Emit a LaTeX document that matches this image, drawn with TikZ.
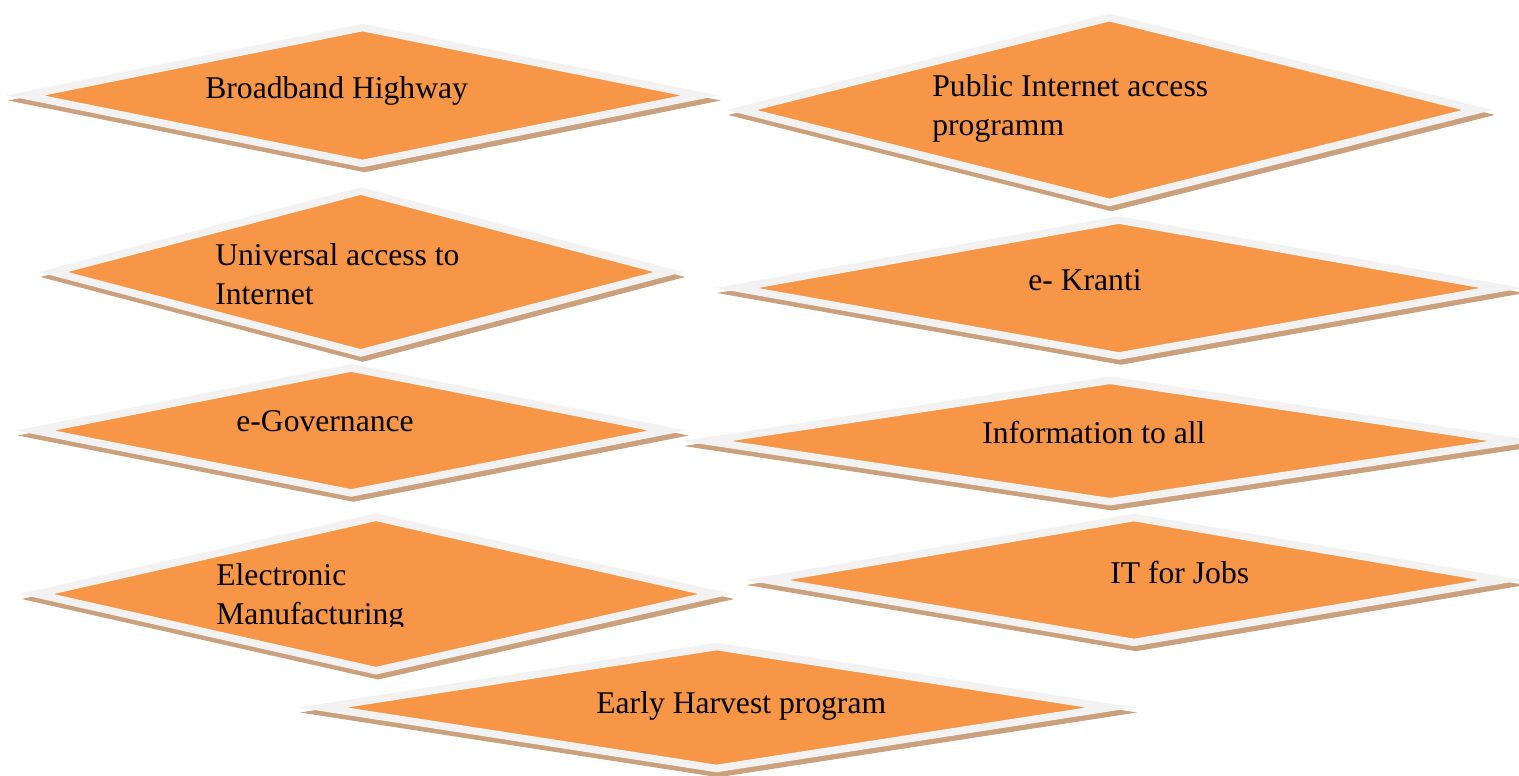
\documentclass[tikz,border=0pt]{standalone}
\usepackage{fontspec}
\setmainfont{Liberation Serif}
\usetikzlibrary{shapes.geometric,shadows}

\definecolor{boxorange}{RGB}{247,150,70}
\definecolor{boxrim}{RGB}{242,242,242}
\definecolor{boxshadow}{RGB}{203,160,124}

\begin{document}
\begin{tikzpicture}[x=0.02cm, y=-0.02cm,
    box/.style 2 args={diamond, minimum width=#1, minimum height=#2, inner sep=0pt,
        fill=boxorange, draw=boxrim, line width=0.15cm, line join=miter,
        drop shadow={shadow xshift=0.04cm, shadow yshift=-0.1cm, opacity=1,
            fill=boxshadow, draw=boxshadow, line width=0.15cm}},
    lbl/.style={font=\fontsize{18}{22}\selectfont, align=left, inner sep=0pt, anchor=base west}]
\useasboundingbox (0,0) rectangle (1519,775);

% diamonds, row by row
\node[box={13.56cm}{2.78cm}] (broadband) at (362.5,95.5) {};
\node[box={14.78cm}{3.76cm}] (publicnet) at (1109.5,110) {};
\node[box={12.37cm}{3.30cm}] (universal) at (360.75,272) {};
\node[box={15.36cm}{2.78cm}] (ekranti) at (1119,288) {};
\node[box={12.71cm}{2.56cm}] (egov) at (351.25,430.5) {};
\node[box={16.2cm}{2.49cm}] (infoall) at (1110,441) {};
\node[box={13.64cm}{3.13cm}] (electronic) at (376,594) {};
\node[box={14.75cm}{2.56cm}] (itjobs) at (1134,580) {};
\node[box={15.82cm}{2.5cm}] (harvest) at (716.5,707.5) {};

% labels (two-line ones sit on their last baseline)
\node[lbl] (broadband text) at (205,98) {Broadband Highway};
\node[lbl] (publicnet text) at (932,135) {Public Internet access\\programm};
\node[lbl] (universal text) at (215,304) {Universal access to\\Internet};
\node[lbl] (ekranti text) at (1028,290) {e- Kranti};
\node[lbl] (egov text) at (236,431) {e-Governance};
\node[lbl] (infoall text) at (982,443) {Information to all};
\begin{scope}
    \clip (200,540) rectangle (520,626);
    \node[lbl] (electronic text) at (216,624) {Electronic\\Manufacturing};
\end{scope}
\node[lbl] (itjobs text) at (1110,583) {IT for Jobs};
\node[lbl] (harvest text) at (596,713) {Early Harvest program};
\end{tikzpicture}
\end{document}
